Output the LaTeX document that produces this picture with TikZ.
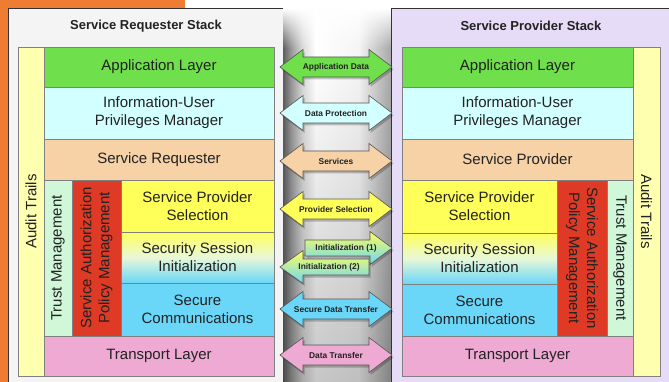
\documentclass[tikz,border=0pt]{standalone}
\usepackage{fontspec}
\setmainfont{Liberation Sans}
\usetikzlibrary{fadings}
\definecolor{orangebg}{HTML}{EE7D33}
\definecolor{reqbg}{HTML}{F4F4F4}
\definecolor{provbg}{HTML}{E6DCF8}
\definecolor{boxline}{HTML}{333333}
\definecolor{layerline}{HTML}{808080}
\definecolor{arrline}{HTML}{555555}
\definecolor{txt}{HTML}{222222}
\definecolor{appgreen}{HTML}{6FDF4B}
\definecolor{infocyan}{HTML}{D2FFFF}
\definecolor{peach}{HTML}{F6D2A6}
\definecolor{ylw}{HTML}{FFFF5A}
\definecolor{cyn}{HTML}{6AD6F8}
\definecolor{pnk}{HTML}{EEAAD2}
\definecolor{rd}{HTML}{DE3A26}
\definecolor{trustgreen}{HTML}{D0F7D8}
\definecolor{audityellow}{HTML}{FFFFB0}
\definecolor{midpale}{HTML}{E8F8D8}
\pgfdeclarehorizontalshading{bandshade}{100bp}{color(0bp)=(black!62); color(25bp)=(black!62); color(29bp)=(black!38); color(34bp)=(black!14); color(40bp)=(white); color(60bp)=(white!96!black); color(68bp)=(black!20); color(75bp)=(black!34); color(100bp)=(black!34)}
\tikzset{
  layer/.style={draw=layerline, line width=0.5pt, inner sep=0pt, text=txt,
    font=\fontsize{15}{18}\selectfont, align=center},
  stitle/.style={text=txt, font=\bfseries\fontsize{13}{15}\selectfont},
  arrtext/.style={text=txt, font=\bfseries\fontsize{8.4}{10}\selectfont, inner sep=0pt},
  arrbody/.style={draw=arrline, line width=0.6pt},
  arrshadow/.style={fill=black, opacity=0.22, shift={(1.5,2.5)}},
  pics/dbl/.style 2 args={code={
    \fill[arrshadow] (-56,0) -- (-33,-17.5) -- (-33,-10) -- (33,-10) -- (33,-17.5) -- (56,0) -- (33,17.5) -- (33,10) -- (-33,10) -- (-33,17.5) -- cycle;
    \path[arrbody, #1] (-56,0) -- (-33,-17.5) -- (-33,-10) -- (33,-10) -- (33,-17.5) -- (56,0) -- (33,17.5) -- (33,10) -- (-33,10) -- (-33,17.5) -- cycle;
    \node[arrtext] (-t) at (0,0) {#2};
  }}
}
\begin{document}
\begin{tikzpicture}[x=1pt,y=-1pt]
\useasboundingbox (0,0) rectangle (669,382);
\clip (0,0) rectangle (669,382);
% backgrounds
\fill[orangebg] (0,0) rectangle (185,382);
\path[fill=reqbg, draw=boxline, line width=0.6pt] (8,8) rectangle (283,400);
\path[fill=provbg, draw=boxline, line width=0.6pt] (391,8) rectangle (700,400);
\shade[shading=bandshade] (283.3,8.4) rectangle (390.7,382);
\fill[black, opacity=0.22, path fading=north] (283.3,60) rectangle (390.7,382);
\fill[white, path fading=south] (283.3,8.4) rectangle (390.7,48);
% titles
\node[stitle] (tReq) at (146,26) {Service Requester Stack};
\node[stitle] (tProv) at (531,26) {Service Provider Stack};
% left stack
\node[layer, fill=audityellow, rotate=90, minimum width=329pt, minimum height=26pt] (lAudit) at (31,211.5) {Audit Trails};
\node[layer, fill=appgreen, minimum width=230pt, minimum height=40pt] (lApp) at (159,67) {Application Layer};
\node[layer, fill=infocyan, minimum width=230pt, minimum height=52pt] (lInfo) at (159,113) {Information-User\\Privileges Manager};
\node[layer, fill=peach, minimum width=230pt, minimum height=41pt] (lSR) at (159,159.5) {Service Requester};
\node[layer, fill=trustgreen, rotate=90, minimum width=156pt, minimum height=28pt] (lTrust) at (58,258) {Trust Management};
\node[layer, fill=rd, rotate=90, minimum width=156pt, minimum height=49pt] (lAuth) at (96.5,258) {Service Authorization\\Policy Management};
\node[layer, fill=ylw, minimum width=153pt, minimum height=52pt] (lSPS) at (197.5,206) {Service Provider\\Selection};
\node[layer, top color=ylw, bottom color=cyn, middle color=midpale, minimum width=153pt, minimum height=51pt] (lSSI) at (197.5,257.5) {Security Session\\Initialization};
\node[layer, fill=cyn, minimum width=153pt, minimum height=53pt] (lSC) at (197.5,309.5) {Secure\\Communications};
\node[layer, fill=pnk, minimum width=230pt, minimum height=40pt] (lTr) at (159,356) {Transport Layer};
% right stack
\node[layer, fill=appgreen, minimum width=231pt, minimum height=40pt] (rApp) at (517.5,67) {Application Layer};
\node[layer, fill=infocyan, minimum width=231pt, minimum height=52pt] (rInfo) at (517.5,113) {Information-User\\Privileges Manager};
\node[layer, fill=peach, minimum width=231pt, minimum height=41pt] (rSP) at (517.5,159.5) {Service Provider};
\node[layer, fill=ylw, minimum width=155pt, minimum height=53pt] (rSPS) at (479.5,206.5) {Service Provider\\Selection};
\node[layer, top color=ylw, bottom color=cyn, middle color=midpale, minimum width=155pt, minimum height=51pt] (rSSI) at (479.5,258.5) {Security Session\\Initialization};
\node[layer, fill=cyn, minimum width=155pt, minimum height=52pt] (rSC) at (479.5,310) {Secure\\Communications};
\node[layer, fill=rd, rotate=-90, minimum width=156pt, minimum height=50pt] (rAuth) at (582,258) {Service Authorization\\Policy Management};
\node[layer, fill=trustgreen, rotate=-90, minimum width=156pt, minimum height=26pt] (rTrust) at (620,258) {Trust Management};
\node[layer, fill=pnk, minimum width=231pt, minimum height=40pt] (rTr) at (517.5,356) {Transport Layer};
\node[layer, fill=audityellow, rotate=-90, minimum width=329pt, minimum height=27pt] (rAudit) at (646.5,211.5) {Audit Trails};
% arrows
\pic (aApp) at (336,67) {dbl={fill=appgreen}{Application Data}};
\pic (aProt) at (336,113) {dbl={fill=infocyan}{Data Protection}};
\pic (aServ) at (336,161) {dbl={fill=peach}{Services}};
\pic (aSel) at (336,209) {dbl={fill=ylw}{Provider Selection}};
% Initialization (1): right-pointing
\fill[arrshadow] (305,240) -- (370,240) -- (370,231.5) -- (392,248) -- (370,264.5) -- (370,256) -- (305,256) -- cycle;
\path[arrbody, top color=ylw, bottom color=cyn] (305,240) -- (370,240) -- (370,231.5) -- (392,248) -- (370,264.5) -- (370,256) -- (305,256) -- cycle;
\node[arrtext] (aInit1) at (346,248) {Initialization (1)};
% Initialization (2): left-pointing
\fill[arrshadow] (369,259) -- (303,259) -- (303,250.5) -- (280,267) -- (303,283.5) -- (303,275) -- (369,275) -- cycle;
\path[arrbody, top color=ylw, bottom color=cyn] (369,259) -- (303,259) -- (303,250.5) -- (280,267) -- (303,283.5) -- (303,275) -- (369,275) -- cycle;
\node[arrtext] (aInit2) at (329,267) {Initialization (2)};
\pic (aSec) at (336,309) {dbl={fill=cyn}{Secure Data Transfer}};
\pic (aTr) at (336,355) {dbl={fill=pnk}{Data Transfer}};
\end{tikzpicture}
\end{document}
